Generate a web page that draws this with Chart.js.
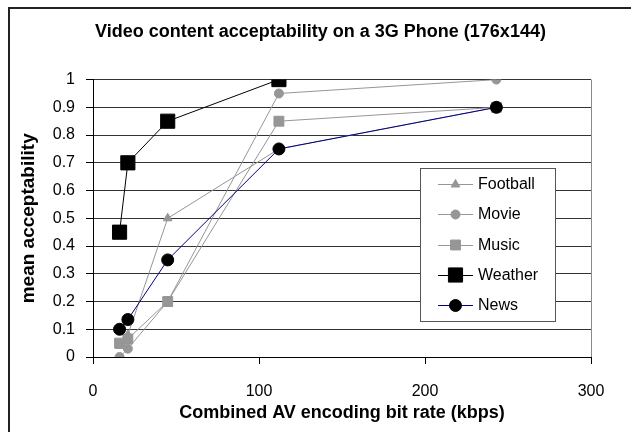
<!DOCTYPE html>
<html>
<head>
<meta charset="utf-8">
<title>Video content acceptability on a 3G Phone</title>
<script src="https://cdn.jsdelivr.net/npm/chart.js@4/dist/chart.umd.min.js"></script>
<style>
  html, body { margin: 0; padding: 0; background: #fff; }
  canvas { display: block; }
</style>
</head>
<body>
<canvas id="chart" width="631" height="432"></canvas>
<script>
// Combined AV encoding bit rates (kbps) at which each clip was rated
const bitRates = [16, 21, 45, 112, 243];
const weatherRates = [16, 21, 45, 112];

// Mean acceptability per content type
const football = [0.04, 0.08, 0.5, 0.75, 0.9];
const movie    = [0.0, 0.03, 0.2, 0.95, 1.0];
const music    = [0.05, 0.065, 0.2, 0.85, 0.9];
const weather  = [0.45, 0.7, 0.85, 1.0];
const news     = [0.1, 0.135, 0.35, 0.75, 0.9];

const xTicks = [0, 100, 200, 300];
const yTicks = [0, 0.1, 0.2, 0.3, 0.4, 0.5, 0.6, 0.7, 0.8, 0.9, 1];

const pts = (xs, ys) => ys.map((y, i) => ({ x: xs[i], y }));

const GREY = '#969696';
const series = [
  { label: 'Football', xs: bitRates, ys: football, color: GREY, line: GREY, style: 'triangle', r: 5 },
  { label: 'Movie',    xs: bitRates, ys: movie,    color: GREY, line: GREY, style: 'circle',   r: 4.5 },
  { label: 'Music',    xs: bitRates, ys: music,    color: GREY, line: GREY, style: 'rect',     r: 7 },
  { label: 'Weather',  xs: weatherRates, ys: weather, color: '#000', line: '#000', style: 'rect', r: 10 },
  { label: 'News',     xs: bitRates, ys: news,     color: '#000', line: '#000080', style: 'circle', r: 6 }
];

const datasets = series.map((s, i) => ({
  label: s.label,
  data: pts(s.xs, s.ys),
  showLine: true,
  borderColor: s.line,
  borderWidth: 1,
  backgroundColor: s.color,
  pointStyle: s.style,
  pointRadius: s.r,
  pointHoverRadius: s.r,
  pointBackgroundColor: s.color,
  pointBorderColor: s.color,
  pointBorderWidth: 1,
  order: series.length - i
}));

const FONT = "'Liberation Sans', Arial, sans-serif";

// White page with the outer frame
const framePlugin = {
  id: 'frame',
  beforeDraw(chart) {
    const c = chart.ctx;
    c.save();
    c.fillStyle = '#fff';
    c.fillRect(0, 0, chart.width, chart.height);
    c.strokeStyle = '#222';
    c.lineWidth = 2;
    c.strokeRect(9, 8, chart.width + 20, chart.height + 20);
    c.restore();
  }
};

// Boxed legend inside the plot area
const boxLegend = {
  id: 'boxLegend',
  afterDraw(chart) {
    const c = chart.ctx;
    const bx = 420, by = 168, bw = 135, bh = 153;
    c.save();
    c.fillStyle = '#fff';
    c.fillRect(bx, by, bw, bh);
    c.strokeStyle = '#555';
    c.lineWidth = 1;
    c.strokeRect(bx + 0.5, by + 0.5, bw, bh);
    const rowY = [184, 214, 244.5, 274.5, 305];
    chart.data.datasets.forEach((ds, i) => {
      const y = rowY[i];
      c.strokeStyle = ds.borderColor;
      c.lineWidth = 1;
      c.beginPath();
      c.moveTo(438, Math.round(y) + 0.5);
      c.lineTo(473, Math.round(y) + 0.5);
      c.stroke();
      c.fillStyle = ds.pointBackgroundColor;
      c.strokeStyle = ds.pointBorderColor;
      Chart.helpers.drawPoint(c, {
        pointStyle: ds.pointStyle,
        radius: ds.pointRadius,
        rotation: 0,
        borderWidth: 1
      }, 455.5, y + 0.5);
      c.fillStyle = '#000';
      c.font = '16px ' + FONT;
      c.textAlign = 'left';
      c.textBaseline = 'middle';
      c.fillText(ds.label, 478, y + 1);
    });
    c.restore();
  }
};

new Chart(document.getElementById('chart'), {
  type: 'scatter',
  data: { datasets },
  plugins: [framePlugin, boxLegend],
  options: {
    responsive: false,
    animation: false,
    layout: { padding: { left: 10, top: 0, right: 0, bottom: 0 } },
    plugins: {
      legend: { display: false },
      tooltip: { enabled: false },
      title: {
        display: true,
        text: 'Video content acceptability on a 3G Phone (176x144)',
        color: '#000',
        font: { family: FONT, size: 18, weight: 'bold' },
        padding: { top: 21, bottom: 37 }
      }
    },
    scales: {
      x: {
        type: 'linear',
        min: 0, max: 300,
        afterBuildTicks: s => { s.ticks = xTicks.map(v => ({ value: v })); },
        afterFit: s => { s.height = 75; },
        ticks: { color: '#000', padding: 18, font: { family: FONT, size: 16 } },
        grid: {
          color: ctx => (ctx.tick && ctx.tick.value === 300) ? '#8a8a8a' : 'rgba(0,0,0,0)',
          tickColor: '#000',
          tickLength: 7,
          lineWidth: 1
        },
        border: { display: true, color: '#000', width: 1 },
        title: {
          display: true,
          text: 'Combined AV encoding bit rate (kbps)',
          color: '#000',
          font: { family: FONT, size: 18, weight: 'bold' },
          padding: { top: 0, bottom: 8 }
        }
      },
      y: {
        type: 'linear',
        min: 0, max: 1,
        afterBuildTicks: s => { s.ticks = yTicks.map(v => ({ value: v })); },
        afterFit: s => { s.width = 83; },
        ticks: {
          color: '#000', padding: 11, font: { family: FONT, size: 16 },
          callback: v => String(Math.round(v * 10) / 10)
        },
        grid: { color: '#333', tickColor: '#000', tickLength: 7, lineWidth: 1 },
        border: { display: true, color: '#000', width: 1 },
        title: {
          display: true,
          text: 'mean acceptability',
          color: '#000',
          font: { family: FONT, size: 19, weight: 'bold' },
          padding: { top: 7, bottom: 0 }
        }
      },
      // empty right-hand margin so the plot ends at 300 kbps
      yRight: {
        type: 'linear',
        position: 'right',
        display: true,
        grid: { display: false },
        ticks: { display: false },
        border: { display: false },
        afterFit: s => { s.width = 40; }
      }
    }
  }
});
</script>
</body>
</html>
